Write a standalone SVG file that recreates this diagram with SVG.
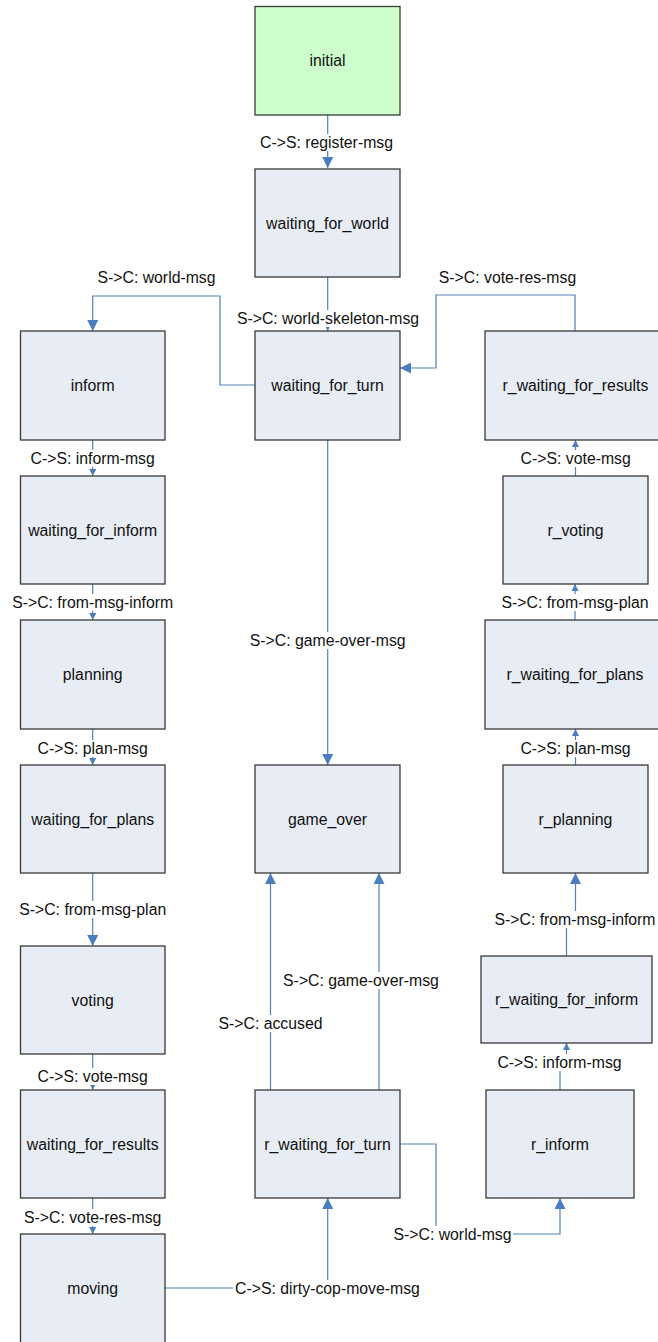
<svg xmlns="http://www.w3.org/2000/svg" width="658" height="1342" viewBox="0 0 658 1342">
<style>
.n{fill:#E8ECF5;stroke:#3A3A3A;stroke-width:1.3}
.g{fill:#CCFFCC}
.t{font-family:"Liberation Sans",Arial,sans-serif;font-size:15.8px;fill:#111;text-anchor:middle}
.c{fill:none;stroke:#4F81BD;stroke-width:1.2}
.lb{fill:#FFFFFF}
</style>
<defs>
<marker id="ab" viewBox="0 0 10 10" refX="10" refY="5" markerWidth="11" markerHeight="11" markerUnits="userSpaceOnUse" orient="auto"><path d="M0,0 L10,5 L0,10 z" fill="#4A7EC0"/></marker>
<marker id="as" viewBox="0 0 10 10" refX="10" refY="5" markerWidth="7" markerHeight="7" markerUnits="userSpaceOnUse" orient="auto"><path d="M0,0 L10,5 L0,10 z" fill="#4A7EC0"/></marker>
</defs>
<rect width="658" height="1342" fill="#FFFFFF"/>
<g id="connectors">
<path class="c" d="M327.7,115 V168" marker-end="url(#ab)"/>
<path class="c" d="M327.7,277 V331" marker-end="url(#as)"/>
<path class="c" d="M255,385 H220 V296 H92.7 V331" marker-end="url(#ab)"/>
<path class="c" d="M575,331 V295 H436 V368 H400" marker-end="url(#ab)"/>
<path class="c" d="M327.7,440 V765" marker-end="url(#ab)"/>
<path class="c" d="M92.7,440 V476" marker-end="url(#as)"/>
<path class="c" d="M92.7,584 V620" marker-end="url(#as)"/>
<path class="c" d="M92.7,729 V765" marker-end="url(#as)"/>
<path class="c" d="M92.7,873 V946" marker-end="url(#ab)"/>
<path class="c" d="M92.7,1054 V1090" marker-end="url(#as)"/>
<path class="c" d="M92.7,1198 V1234" marker-end="url(#as)"/>
<path class="c" d="M165,1288 H327.7 V1198" marker-end="url(#ab)"/>
<path class="c" d="M270.5,1090 V873" marker-end="url(#ab)"/>
<path class="c" d="M379,1090 V873" marker-end="url(#ab)"/>
<path class="c" d="M400,1144 H436 V1234 H560 V1198" marker-end="url(#ab)"/>
<path class="c" d="M560,1090 V1062 H566.5 V1043" marker-end="url(#as)"/>
<path class="c" d="M566.5,956 V919 H575.5 V873" marker-end="url(#ab)"/>
<path class="c" d="M575.5,765 V729" marker-end="url(#as)"/>
<path class="c" d="M575,620 V584" marker-end="url(#as)"/>
<path class="c" d="M575.5,476 V440" marker-end="url(#as)"/>
</g>
<g id="labels">
<rect class="lb" x="257" y="134" width="139" height="17"/><text class="t" x="326.5" y="147.5">C-&gt;S: register-msg</text>
<rect class="lb" x="95" y="269" width="123" height="17"/><text class="t" x="156.5" y="282.5">S-&gt;C: world-msg</text>
<rect class="lb" x="234" y="310" width="188" height="17"/><text class="t" x="328" y="323.5">S-&gt;C: world-skeleton-msg</text>
<rect class="lb" x="436" y="269" width="143" height="17"/><text class="t" x="507.5" y="282.5">S-&gt;C: vote-res-msg</text>
<rect class="lb" x="27" y="450" width="132" height="17"/><text class="t" x="92.7" y="463.5">C-&gt;S: inform-msg</text>
<rect class="lb" x="8" y="594" width="170" height="17"/><text class="t" x="92.7" y="607.5">S-&gt;C: from-msg-inform</text>
<rect class="lb" x="34" y="740" width="118" height="17"/><text class="t" x="92.7" y="753.5">C-&gt;S: plan-msg</text>
<rect class="lb" x="15" y="901" width="156" height="17"/><text class="t" x="92.7" y="914.5">S-&gt;C: from-msg-plan</text>
<rect class="lb" x="34" y="1068" width="118" height="17"/><text class="t" x="92.7" y="1081.5">C-&gt;S: vote-msg</text>
<rect class="lb" x="20" y="1209" width="146" height="17"/><text class="t" x="92.7" y="1222.5">S-&gt;C: vote-res-msg</text>
<rect class="lb" x="233" y="1280" width="189" height="17"/><text class="t" x="327.5" y="1293.5">C-&gt;S: dirty-cop-move-msg</text>
<rect class="lb" x="392" y="1226" width="121" height="17"/><text class="t" x="452.5" y="1239.5">S-&gt;C: world-msg</text>
<rect class="lb" x="216" y="1015" width="109" height="17"/><text class="t" x="270.5" y="1028.5">S-&gt;C: accused</text>
<rect class="lb" x="280" y="972" width="162" height="17"/><text class="t" x="361" y="985.5">S-&gt;C: game-over-msg</text>
<rect class="lb" x="247" y="632" width="162" height="17"/><text class="t" x="327.7" y="645.5">S-&gt;C: game-over-msg</text>
<rect class="lb" x="495" y="1054" width="129" height="17"/><text class="t" x="559.5" y="1067.5">C-&gt;S: inform-msg</text>
<rect class="lb" x="491" y="911" width="167" height="17"/><text class="t" x="575" y="924.5">S-&gt;C: from-msg-inform</text>
<rect class="lb" x="517" y="740" width="117" height="17"/><text class="t" x="575.5" y="753.5">C-&gt;S: plan-msg</text>
<rect class="lb" x="497" y="594" width="156" height="17"/><text class="t" x="575" y="607.5">S-&gt;C: from-msg-plan</text>
<rect class="lb" x="517" y="450" width="118" height="17"/><text class="t" x="575.7" y="463.5">C-&gt;S: vote-msg</text>
</g>
<g id="initial"><rect class="n g" x="255" y="6.5" width="145" height="108.5"/><text class="t" x="327.5" y="66">initial</text></g>
<g id="waiting_for_world"><rect class="n" x="255" y="169" width="145" height="108"/><text class="t" x="327.5" y="228.5">waiting_for_world</text></g>
<g id="waiting_for_turn"><rect class="n" x="255" y="331" width="145" height="109"/><text class="t" x="327.5" y="390.5">waiting_for_turn</text></g>
<g id="inform"><rect class="n" x="20.5" y="331" width="144.5" height="109"/><text class="t" x="92.7" y="390.5">inform</text></g>
<g id="waiting_for_inform"><rect class="n" x="20.5" y="476" width="144.5" height="108"/><text class="t" x="92.7" y="535.5">waiting_for_inform</text></g>
<g id="planning"><rect class="n" x="20.5" y="620" width="144.5" height="109"/><text class="t" x="92.7" y="680">planning</text></g>
<g id="waiting_for_plans"><rect class="n" x="20.5" y="765" width="144.5" height="108"/><text class="t" x="92.7" y="824.5">waiting_for_plans</text></g>
<g id="voting"><rect class="n" x="20.5" y="946" width="144.5" height="108"/><text class="t" x="92.7" y="1005.5">voting</text></g>
<g id="waiting_for_results"><rect class="n" x="20.5" y="1090" width="144.5" height="108"/><text class="t" x="92.7" y="1149.5">waiting_for_results</text></g>
<g id="moving"><rect class="n" x="20.5" y="1234" width="144.5" height="110"/><text class="t" x="92.7" y="1293.5">moving</text></g>
<g id="game_over"><rect class="n" x="255" y="765" width="145" height="108"/><text class="t" x="327.5" y="824.5">game_over</text></g>
<g id="r_waiting_for_turn"><rect class="n" x="255" y="1090" width="145" height="108"/><text class="t" x="327.5" y="1149.5">r_waiting_for_turn</text></g>
<g id="r_waiting_for_results"><rect class="n" x="485" y="331" width="180" height="109"/><text class="t" x="575.5" y="390.5">r_waiting_for_results</text></g>
<g id="r_voting"><rect class="n" x="503" y="476" width="145" height="108"/><text class="t" x="575.5" y="535.5">r_voting</text></g>
<g id="r_waiting_for_plans"><rect class="n" x="485" y="620" width="180" height="109"/><text class="t" x="575" y="680">r_waiting_for_plans</text></g>
<g id="r_planning"><rect class="n" x="503" y="765" width="145" height="108"/><text class="t" x="575.5" y="824.5">r_planning</text></g>
<g id="r_waiting_for_inform"><rect class="n" x="481" y="956" width="171" height="87"/><text class="t" x="566.5" y="1004.5">r_waiting_for_inform</text></g>
<g id="r_inform"><rect class="n" x="486" y="1090" width="148" height="108"/><text class="t" x="560" y="1149.5">r_inform</text></g>
</svg>
